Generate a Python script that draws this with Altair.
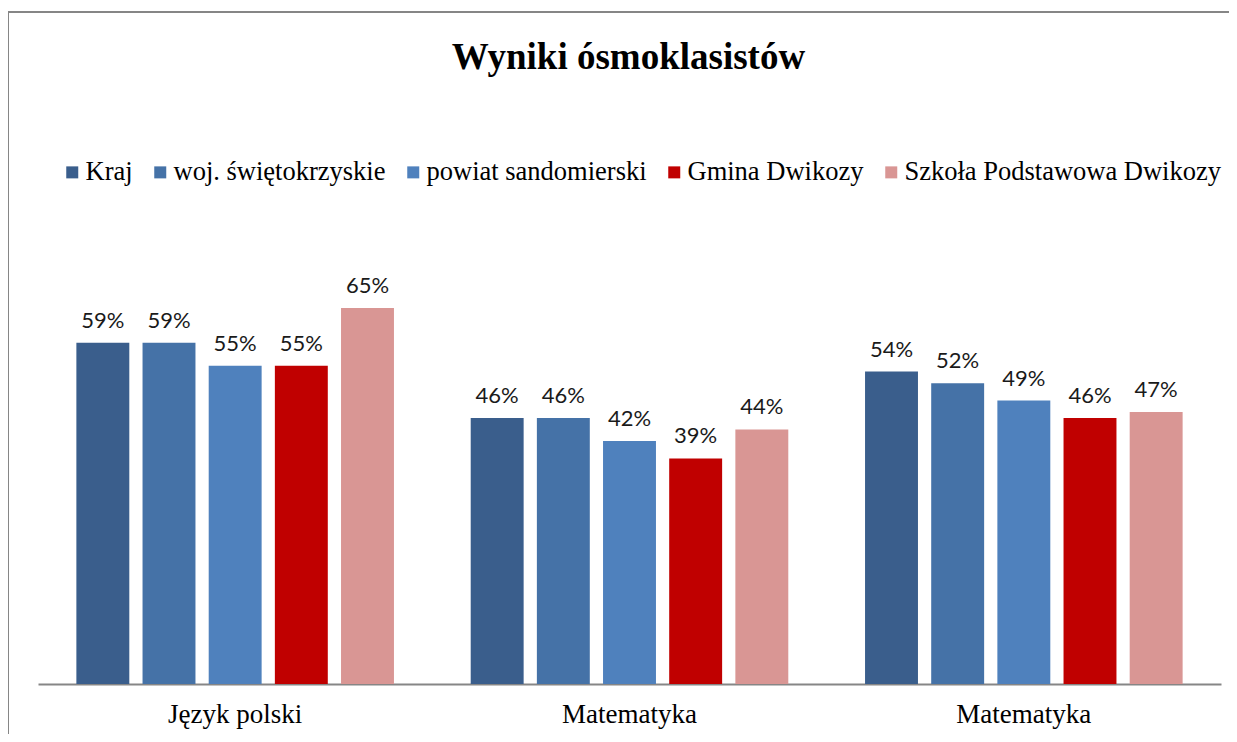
import json
import altair as alt
import pandas as pd

categories = ["Język polski", "Matematyka", "Matematyka"]
series = ["Kraj", "woj. świętokrzyskie", "powiat sandomierski", "Gmina Dwikozy", "Szkoła Podstawowa Dwikozy"]
kraj = [0.59, 0.46, 0.54]
woj = [0.59, 0.46, 0.52]
powiat = [0.55, 0.42, 0.49]
gmina = [0.55, 0.39, 0.46]
szkola = [0.65, 0.44, 0.47]
colors = ["#3A5E8C", "#4572A7", "#4F81BD", "#C00000", "#D99694"]

rows = []
for s, vals in zip(series, [kraj, woj, powiat, gmina, szkola]):
    for i, v in enumerate(vals):
        rows.append({"grp": i, "series": s, "value": v})
df = pd.DataFrame(rows)

label_expr = json.dumps(categories, ensure_ascii=False) + "[datum.value]"

W, H = 1221, 726
BASE = 676
TOP = 4

x = alt.X(
    "grp:O",
    scale=alt.Scale(range=[30, 1213], paddingInner=0, paddingOuter=0),
    axis=alt.Axis(
        title=None, labelExpr=label_expr, labelAngle=0, ticks=False,
        domainColor="#868686", domainWidth=2, labelFont="Liberation Serif",
        labelFontSize=27, labelColor="black", labelPadding=17, offset=BASE - H,
    ),
)
xo = alt.XOffset("series:N", sort=series, scale=alt.Scale(paddingInner=0.2, paddingOuter=0.58))
y = alt.Y("value:Q", scale=alt.Scale(domain=[0, 0.7], range=[BASE, BASE - 0.7 * 578.5], nice=False, zero=True), axis=None)
color = alt.Color(
    "series:N", sort=series,
    scale=alt.Scale(domain=series, range=colors),
    legend=alt.Legend(
        title=None, orient="none", legendX=51, legendY=151, direction="horizontal",
        symbolType="square", symbolSize=144, symbolStrokeWidth=0, labelFont="Liberation Serif",
        labelFontSize=26.5, labelColor="black", labelOffset=0, columnPadding=14,
        labelLimit=500, padding=0,
    ),
)

base = alt.Chart(df)
frame_left = alt.Chart(df).mark_rule(color="#868686", strokeWidth=2).encode(
    x=alt.value(0), y=alt.value(TOP), y2=alt.value(H)
)
frame_top = alt.Chart(df).mark_rule(color="#868686", strokeWidth=2).encode(
    x=alt.value(0), x2=alt.value(W), y=alt.value(TOP)
)
bars = base.mark_bar().encode(x=x, xOffset=xo, y=y, color=color)
texts = base.mark_text(font="Lato", fontSize=22, baseline="alphabetic", dy=-15, color="#1a1a1a").encode(
    x=x, xOffset=xo, y=y, text=alt.Text("value:Q", format=".0%")
)

chart = (
    alt.layer(frame_left, frame_top, bars, texts)
    .properties(
        width=W, height=H,
        padding={"left": 0, "top": 0, "right": 0, "bottom": 0},
        autosize=alt.AutoSizeParams(type="none"),
        title=alt.TitleParams(
            "Wyniki ósmoklasistów", font="Liberation Serif", fontSize=37, fontWeight="bold",
            color="black", anchor="middle", frame="group", baseline="alphabetic", offset=-98, dx=10,
        ),
    )
    .configure_view(stroke=None)
)

chart.save("out.html", embed_options={"renderer": "svg", "actions": False})
